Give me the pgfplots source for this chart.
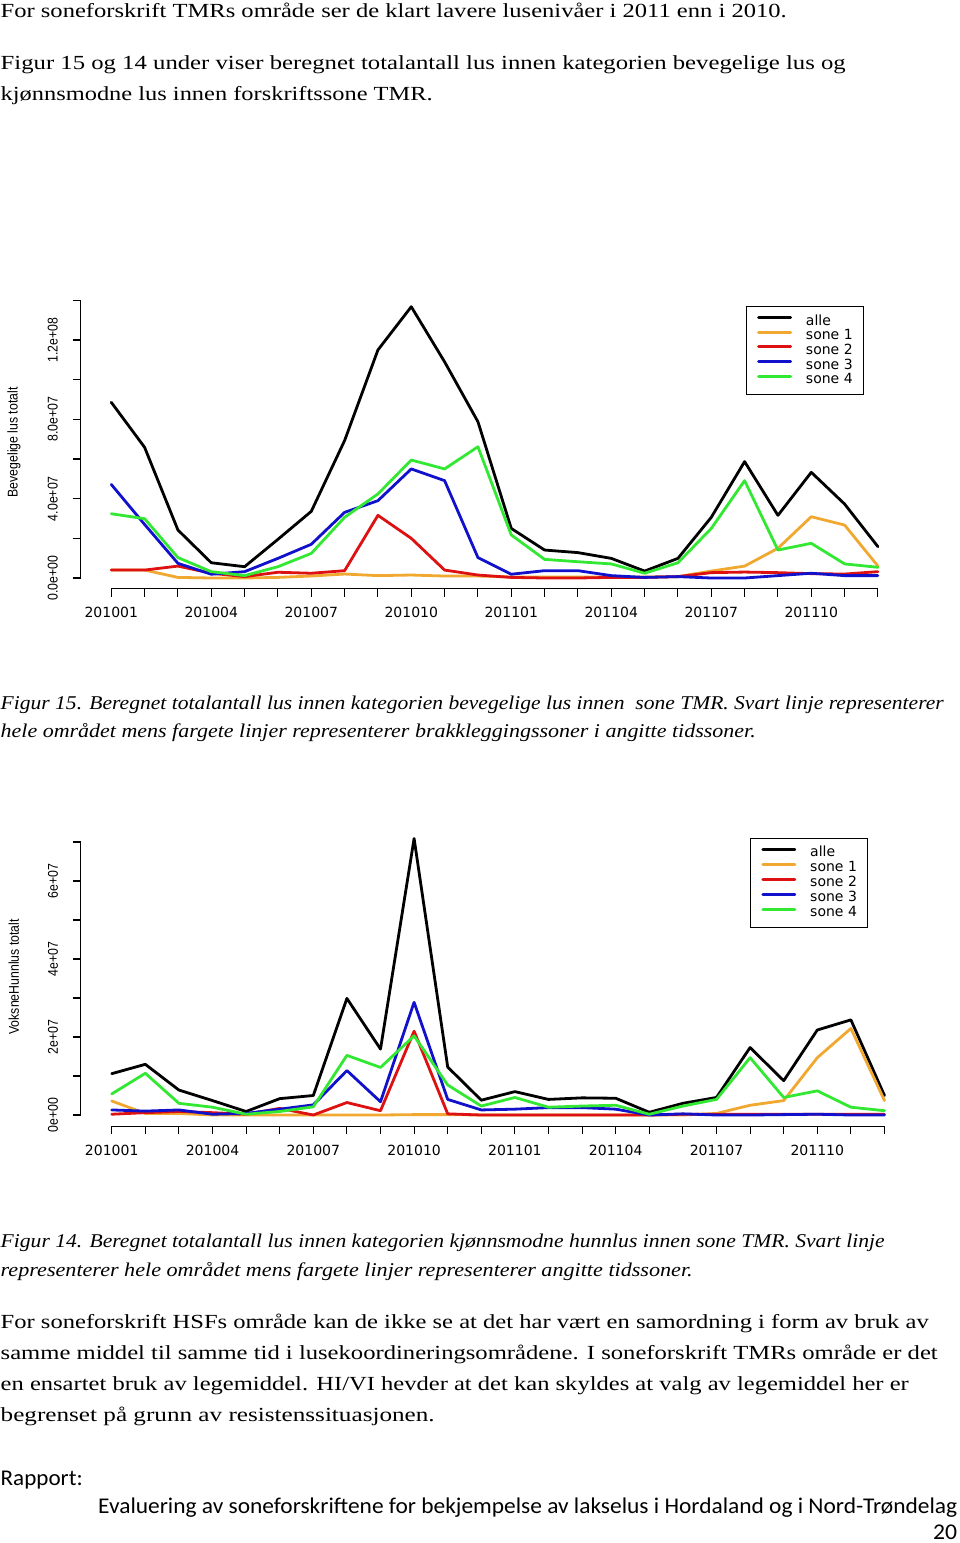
\documentclass[border=0pt]{standalone}
\usepackage{pgfplots}
\pgfplotsset{compat=1.18}
\usepackage{pgfplotstable}
\usepackage{graphicx}
\usepackage{fontspec}
\setmainfont{Liberation Serif}
\newfontfamily\lsans{Liberation Sans}
\newfontfamily\dsans{DejaVu Sans}
\newfontfamily\calib{Carlito}

\definecolor{rorange}{HTML}{F0A830}
\definecolor{rred}{HTML}{DD1111}
\definecolor{rblue}{HTML}{1111CC}
\definecolor{rgreen}{HTML}{33E833}

\newcommand\xl[1]{\mbox{\dsans\fontsize{14bp}{14bp}\selectfont #1}}
\newcommand\yl[1]{\rotatebox{90}{\scalebox{1}[1.15]{\lsans\fontsize{12.3bp}{12.3bp}\selectfont #1}}}
\newcommand\bodyline[4]{\node[anchor=base west, inner sep=0pt] at (#1bp,-#2bp) {\resizebox{#3bp}{\height}{\fontsize{20bp}{24bp}\selectfont #4}};}
\newcommand\capline[4]{\node[anchor=base west, inner sep=0pt] at (#1bp,-#2bp) {\resizebox{#3bp}{\height}{\fontsize{19.5bp}{24bp}\selectfont\itshape #4}};}
\newcommand\footline[4]{\node[anchor=base west, inner sep=0pt] at (#1bp,-#2bp) {\resizebox{#3bp}{\height}{\calib\fontsize{22.5bp}{26bp}\selectfont #4}};}

% Chart 1: Bevegelige lus totalt (values)
\pgfplotstableread{
i alle s1 s2 s3 s4
0 8.86e7 0.40e7 0.40e7 4.72e7 3.24e7
1 6.59e7 0.40e7 0.40e7 2.70e7 2.99e7
2 2.42e7 0.03e7 0.60e7 0.74e7 1.03e7
3 0.77e7 0.00e7 0.24e7 0.19e7 0.32e7
4 0.57e7 0.00e7 0.07e7 0.32e7 0.12e7
5 1.95e7 0.03e7 0.29e7 0.99e7 0.57e7
6 3.36e7 0.10e7 0.24e7 1.70e7 1.24e7
7 6.93e7 0.20e7 0.37e7 3.31e7 3.06e7
8 11.50e7 0.12e7 3.16e7 3.90e7 4.24e7
9 13.68e7 0.15e7 2.00e7 5.50e7 5.95e7
10 10.90e7 0.10e7 0.40e7 4.91e7 5.50e7
11 7.88e7 0.10e7 0.15e7 1.03e7 6.62e7
12 2.50e7 0.05e7 0.03e7 0.19e7 2.17e7
13 1.41e7 0.05e7 0.00e7 0.37e7 0.94e7
14 1.28e7 0.05e7 0.00e7 0.37e7 0.82e7
15 0.99e7 0.05e7 0.03e7 0.12e7 0.71e7
16 0.35e7 0.05e7 0.03e7 0.03e7 0.24e7
17 0.99e7 0.07e7 0.07e7 0.07e7 0.77e7
18 3.06e7 0.35e7 0.27e7 0.00e7 2.50e7
19 5.87e7 0.60e7 0.30e7 0.00e7 4.91e7
20 3.16e7 1.50e7 0.27e7 0.12e7 1.41e7
21 5.33e7 3.09e7 0.22e7 0.24e7 1.75e7
22 3.73e7 2.67e7 0.20e7 0.12e7 0.71e7
23 1.58e7 0.60e7 0.32e7 0.12e7 0.54e7
}\tabA

% Chart 2: VoksneHunnlus totalt
\pgfplotstableread{
i alle s1 s2 s3 s4
0 1.06e7 0.36e7 0.02e7 0.13e7 0.54e7
1 1.30e7 0.04e7 0.06e7 0.10e7 1.07e7
2 0.64e7 0.04e7 0.09e7 0.13e7 0.30e7
3 0.37e7 0.00e7 0.06e7 0.02e7 0.20e7
4 0.09e7 0.00e7 0.02e7 0.04e7 0.02e7
5 0.42e7 0.00e7 0.17e7 0.15e7 0.09e7
6 0.50e7 0.00e7 0.00e7 0.26e7 0.21e7
7 2.99e7 0.00e7 0.32e7 1.14e7 1.53e7
8 1.69e7 0.00e7 0.11e7 0.34e7 1.22e7
9 7.09e7 0.01e7 2.15e7 2.89e7 2.03e7
10 1.23e7 0.01e7 0.03e7 0.40e7 0.77e7
11 0.38e7 0.00e7 0.00e7 0.13e7 0.23e7
12 0.60e7 0.00e7 0.00e7 0.15e7 0.45e7
13 0.40e7 0.00e7 0.00e7 0.19e7 0.20e7
14 0.44e7 0.00e7 0.00e7 0.19e7 0.23e7
15 0.43e7 0.00e7 0.00e7 0.15e7 0.25e7
16 0.07e7 0.00e7 0.00e7 0.00e7 0.02e7
17 0.30e7 0.00e7 0.02e7 0.03e7 0.23e7
18 0.45e7 0.04e7 0.02e7 0.00e7 0.40e7
19 1.73e7 0.25e7 0.02e7 0.00e7 1.47e7
20 0.88e7 0.37e7 0.02e7 0.01e7 0.45e7
21 2.18e7 1.47e7 0.02e7 0.02e7 0.62e7
22 2.44e7 2.22e7 0.02e7 0.00e7 0.20e7
23 0.50e7 0.37e7 0.02e7 0.00e7 0.11e7
}\tabB

\pgfplotsset{rchart/.style={
  scale only axis, clip=false,
  xmin=-0.92, xmax=23.92,
  axis line style={draw=none},
  tick align=outside, major tick length=8bp,
  tick pos=left,
  tick style={line width=1.1bp, black},
  xtick={0,...,23},
  xticklabels={\xl{201001},,,\xl{201004},,,\xl{201007},,,\xl{201010},,,\xl{201101},,,\xl{201104},,,\xl{201107},,,\xl{201110},,},
  xticklabel style={anchor=center, yshift=-15.85bp},
  yticklabel style={anchor=center, xshift=-19.9bp},
  scaled y ticks=false,
  every axis y label/.style={at={(axis description cs:-0.0804,0.5)}, anchor=center},
  every axis plot/.append style={line width=2.8bp, line join=round, line cap=round},
  legend cell align=left,
  legend image code/.code={\draw[#1] (0bp,3.7bp) -- (32bp,3.7bp);},
  legend style={draw=black, line width=0.9bp, inner xsep=11bp, inner ysep=8.6bp,
    column sep=14bp, row sep=2.7bp, font=\dsans\fontsize{14bp}{14bp}\selectfont,
    nodes={inner sep=0pt, text height=10bp, text depth=2bp}},
}}

\begin{document}
\begin{tikzpicture}
\path[use as bounding box] (0bp,0bp) rectangle (960bp,-1543bp);

% ---------- Chart 1 ----------
\begin{axis}[rchart,
  at={(80.6bp,-588.85bp)}, anchor=south west,
  width=828bp, height=292.98bp,
  ymin=-0.5472e7, ymax=14.2272e7,
  ytick={0,2e7,4e7,6e7,8e7,10e7,12e7,14e7},
  yticklabels={\yl{0.0e+00},,\yl{4.0e+07},,\yl{8.0e+07},,\yl{1.2e+08},},
  ylabel={\yl{Bevegelige lus totalt}},
  legend style={at={(0.8033,0.9652)}, anchor=north west},
]
\addplot[black] table[x=i, y=alle] {\tabA};
\addplot[rorange] table[x=i, y=s1] {\tabA};
\addplot[rred] table[x=i, y=s2] {\tabA};
\addplot[rblue] table[x=i, y=s3] {\tabA};
\addplot[rgreen] table[x=i, y=s4] {\tabA};
\legend{alle, sone 1, sone 2, sone 3, sone 4}
\draw[line width=1.1bp] (axis cs:0,-0.5472e7) -- (axis cs:23,-0.5472e7);
\draw[line width=1.1bp] (axis cs:-0.92,0) -- (axis cs:-0.92,14e7);
\end{axis}

% ---------- Chart 2 ----------
\begin{axis}[rchart,
  at={(80.8bp,-1126.06bp)}, anchor=south west,
  width=834.6bp, height=298.6bp,
  ymin=-0.2836e7, ymax=7.3736e7,
  ytick={0,1e7,2e7,3e7,4e7,5e7,6e7,7e7},
  yticklabels={\yl{0e+00},,\yl{2e+07},,\yl{4e+07},,\yl{6e+07},},
  ylabel={\yl{VoksneHunnlus totalt}},
  legend style={at={(0.8018,0.9638)}, anchor=north west, row sep=3bp, inner ysep=8.2bp},
]
\addplot[black] table[x=i, y=alle] {\tabB};
\addplot[rorange] table[x=i, y=s1] {\tabB};
\addplot[rred] table[x=i, y=s2] {\tabB};
\addplot[rblue] table[x=i, y=s3] {\tabB};
\addplot[rgreen] table[x=i, y=s4] {\tabB};
\legend{alle, sone 1, sone 2, sone 3, sone 4}
\draw[line width=1.1bp] (axis cs:0,-0.2836e7) -- (axis cs:23,-0.2836e7);
\draw[line width=1.1bp] (axis cs:-0.92,0) -- (axis cs:-0.92,7e7);
\end{axis}

% ---------- Text ----------
\bodyline{0.5}{17.8}{786}{For soneforskrift TMRs område ser de klart lavere lusenivåer i 2011 enn i 2010.}
\bodyline{0.5}{69.5}{845}{Figur 15 og 14 under viser beregnet totalantall lus innen kategorien bevegelige lus og}
\bodyline{0.5}{100.5}{432}{kjønnsmodne lus innen forskriftssone TMR.}

\capline{0.5}{709.5}{943}{Figur 15. Beregnet totalantall lus innen kategorien bevegelige lus innen\ \ sone TMR. Svart linje representerer}
\capline{0.5}{737.5}{755}{hele området mens fargete linjer representerer brakkleggingssoner i angitte tidssoner.}

\capline{0.5}{1247.5}{884}{Figur 14. Beregnet totalantall lus innen kategorien kjønnsmodne hunnlus innen sone TMR. Svart linje}
\capline{0.5}{1276.5}{692}{representerer hele området mens fargete linjer representerer angitte tidssoner.}

\bodyline{0.5}{1328}{928}{For soneforskrift HSFs område kan de ikke se at det har vært en samordning i form av bruk av}
\bodyline{0.5}{1359.3}{937}{samme middel til samme tid i lusekoordineringsområdene. I soneforskrift TMRs område er det}
\bodyline{0.5}{1390.6}{908}{en ensartet bruk av legemiddel. HI/VI hevder at det kan skyldes at valg av legemiddel her er}
\bodyline{0.5}{1421.5}{434}{begrenset på grunn av resistenssituasjonen.}

\footline{0.5}{1485}{82}{Rapport:}
\footline{98}{1513}{859}{Evaluering av soneforskriftene for bekjempelse av lakselus i Hordaland og i Nord-Trøndelag}
\footline{933}{1539}{24}{20}
\end{tikzpicture}
\end{document}
